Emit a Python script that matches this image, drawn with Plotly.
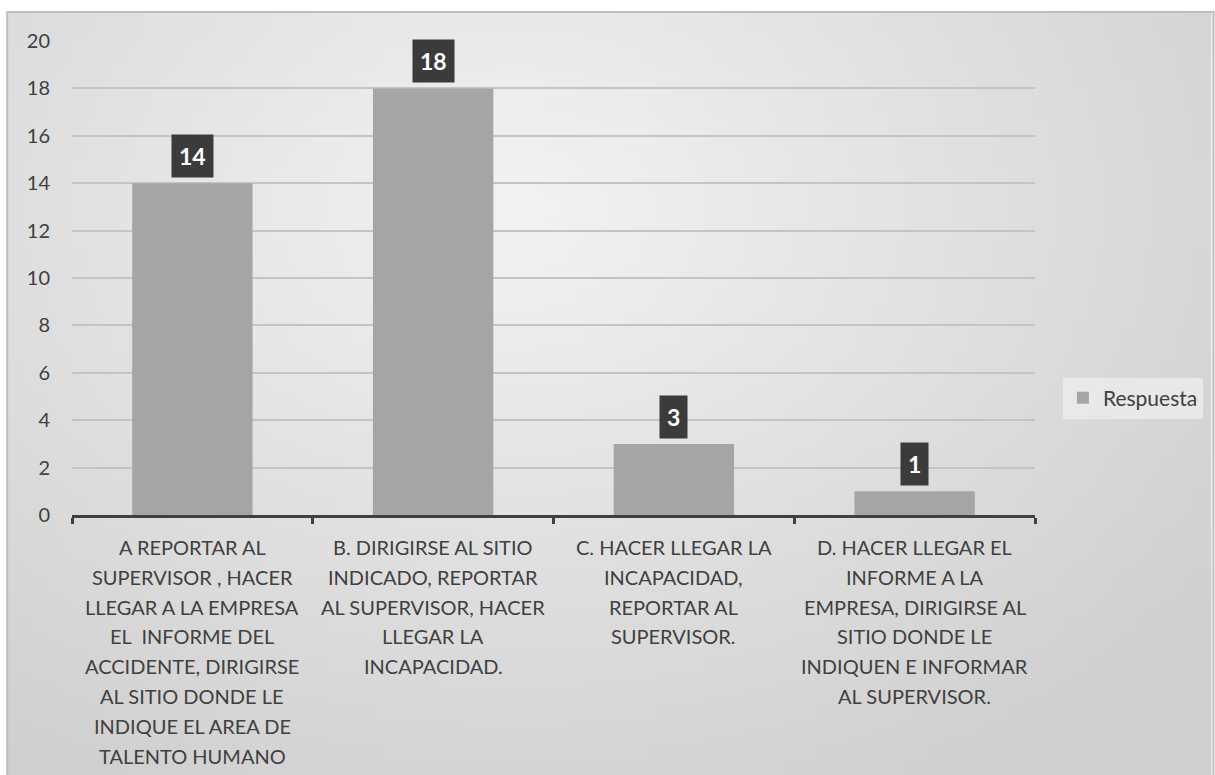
import base64
import struct
import zlib

import plotly.graph_objects as go

CATEGORIES = [
    "A REPORTAR AL<br>SUPERVISOR , HACER<br>LLEGAR A LA EMPRESA<br>EL  INFORME DEL<br>ACCIDENTE, DIRIGIRSE<br>AL SITIO DONDE LE<br>INDIQUE EL AREA DE<br>TALENTO HUMANO",
    "B. DIRIGIRSE AL SITIO<br>INDICADO, REPORTAR<br>AL SUPERVISOR, HACER<br>LLEGAR LA<br>INCAPACIDAD.",
    "C. HACER LLEGAR LA<br>INCAPACIDAD,<br>REPORTAR AL<br>SUPERVISOR.",
    "D. HACER LLEGAR EL<br>INFORME A LA<br>EMPRESA, DIRIGIRSE AL<br>SITIO DONDE LE<br>INDIQUEN E INFORMAR<br>AL SUPERVISOR.",
]
VALUES = [14, 18, 3, 1]
SERIES_NAME = "Respuesta"
Y_TICKS = [0, 2, 4, 6, 8, 10, 12, 14, 16, 18, 20]

W, H = 1215, 775
L, R, T, B = 72, 177, 41, 260
PW, PH = W - L - R, H - T - B
TEXT = "#404040"
FONT = "Lato"
LINE_H = 29.8  # Office wraps category text with a looser leading than plotly's 1.3em


# ---------------------------------------------------------------------------
# soft radial grey background (Office style), built as a tiny png
# ---------------------------------------------------------------------------

def gradient_png(w=121, h=77):
    rows = []
    for j in range(h):
        row = bytearray([0])
        for i in range(w):
            dx = (i / (w - 1) - 0.42) / 0.75
            dy = (j / (h - 1) - 0.25) / 0.9
            d = min(1.0, (dx * dx + dy * dy) ** 0.5)
            v = int(243 - 36 * d)
            row += bytes([v, v, v])
        rows.append(bytes(row))
    raw = b"".join(rows)

    def chunk(tag, data):
        c = struct.pack(">I", len(data)) + tag + data
        return c + struct.pack(">I", zlib.crc32(tag + data) & 0xffffffff)

    png = b"\x89PNG\r\n\x1a\n"
    png += chunk(b"IHDR", struct.pack(">IIBBBBB", w, h, 8, 2, 0, 0, 0))
    png += chunk(b"IDAT", zlib.compress(raw, 9))
    png += chunk(b"IEND", b"")
    return "data:image/png;base64," + base64.b64encode(png).decode()


def px_x(px):
    return (px - L) / PW


def px_y(py):
    return (H - B - py) / PH


fig = go.Figure()
fig.add_trace(go.Bar(
    x=CATEGORIES, y=VALUES, name=SERIES_NAME,
    marker=dict(color="#a5a5a5", line=dict(width=0)),
    showlegend=True, hoverinfo="y",
))

# data labels: dark boxes above the bars
for cat, val in zip(CATEGORIES, VALUES):
    fig.add_annotation(
        x=cat, y=val, xref="x", yref="y",
        text=f"<b>{val}</b>", showarrow=False,
        yanchor="bottom", yshift=5,
        font=dict(family=FONT, size=23, color="white"),
        bgcolor="#3b3b3b", borderpad=7,
    )

# category labels, one annotation per wrapped line
for cat in CATEGORIES:
    for i, line in enumerate(cat.split("<br>")):
        fig.add_annotation(
            x=cat, y=0, xref="x", yref="y",
            text=line, showarrow=False,
            yanchor="middle", yshift=-(32 + LINE_H * i),
            font=dict(family=FONT, size=20, color=TEXT),
        )

fig.add_layout_image(dict(
    source=gradient_png(), xref="paper", yref="paper",
    x=px_x(7), y=px_y(12), sizex=(W - 7) / PW, sizey=(H - 12) / PH,
    xanchor="left", yanchor="top", sizing="stretch", layer="below",
))
fig.add_shape(
    type="rect", xref="paper", yref="paper",
    x0=px_x(7), x1=px_x(W + 2), y0=px_y(H + 2), y1=px_y(12),
    line=dict(color="#bdbdbd", width=2), fillcolor="rgba(0,0,0,0)", layer="below",
)

fig.update_layout(
    width=W, height=H,
    margin=dict(l=L, r=R, t=T, b=B),
    paper_bgcolor="white", plot_bgcolor="rgba(0,0,0,0)",
    font=dict(family=FONT, color=TEXT, size=20),
    bargap=0.5,
    showlegend=True,
    legend=dict(
        x=px_x(1066), y=px_y(398), xanchor="left", yanchor="middle",
        bgcolor="rgba(236,236,236,0.8)", borderwidth=0,
        font=dict(family=FONT, size=21, color=TEXT),
        itemwidth=30,
    ),
)
fig.update_yaxes(
    range=[0, 20], tickvals=Y_TICKS, showgrid=True, gridcolor="#c4c4c4", gridwidth=1.5,
    zeroline=False, showline=False, ticks="", ticklabelstandoff=21,
    tickfont=dict(family=FONT, size=20, color=TEXT),
)
fig.update_xaxes(
    showline=True, linecolor="#404040", linewidth=3,
    ticks="outside", tickson="boundaries", ticklen=6, tickwidth=3, tickcolor="#404040",
    showticklabels=False,
)

# the page is photographed at exactly the figure size, so drop the body margin
fig.write_html(
    "out.html",
    config={"displayModeBar": False},
    post_script="document.body.style.margin='0px';",
)
